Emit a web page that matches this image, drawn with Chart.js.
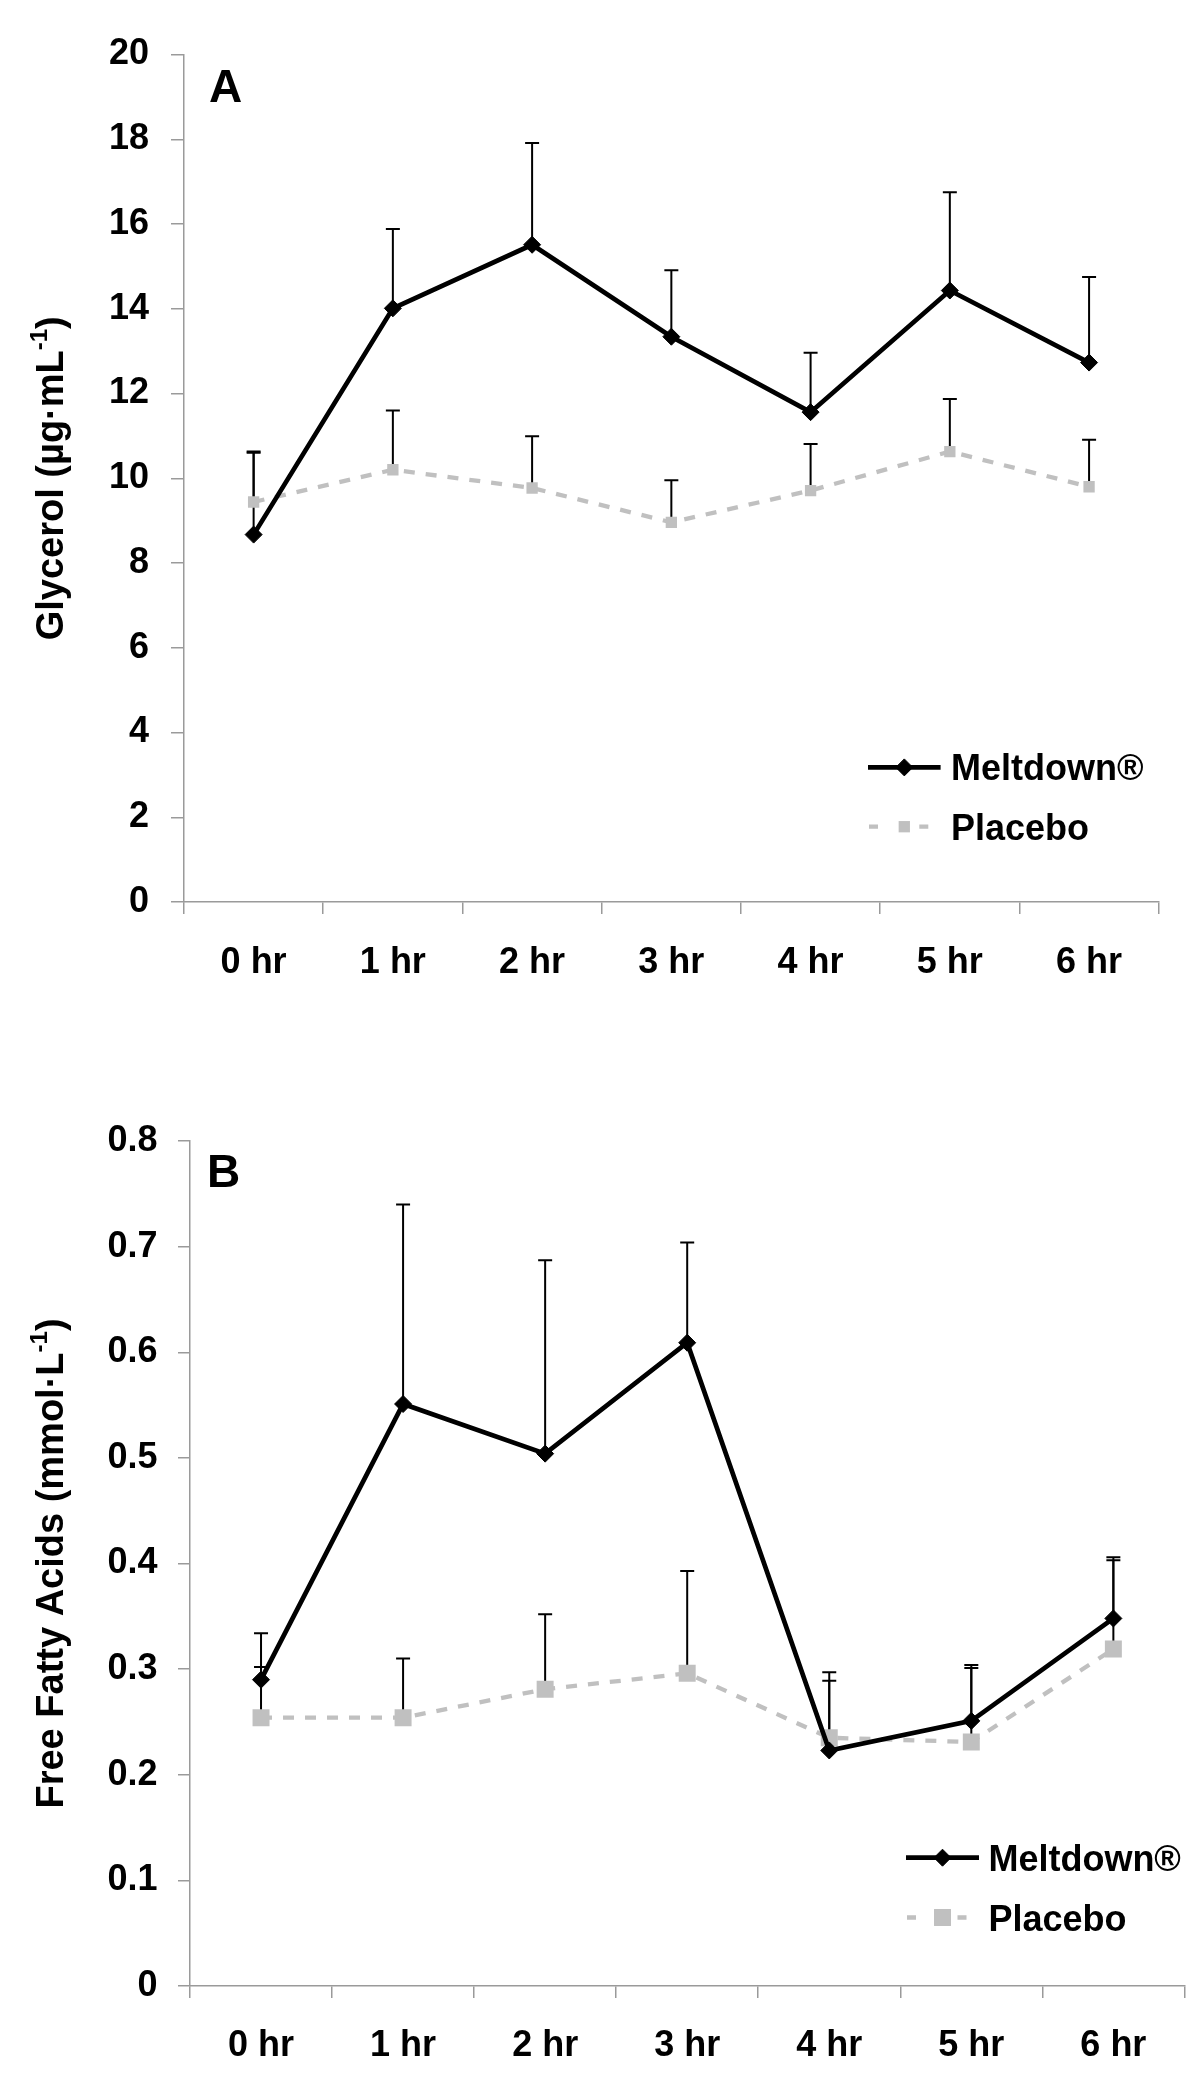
<!DOCTYPE html>
<html>
<head>
<meta charset="utf-8">
<script src="https://cdn.jsdelivr.net/npm/chart.js@4.4.1/dist/chart.umd.min.js"></script>
<style>
  html, body { margin: 0; padding: 0; background: #fff; }
  .panel { position: absolute; left: 0; width: 1200px; height: 1043px; }
  #panelA { top: 0; }
  #panelB { top: 1043px; }
</style>
</head>
<body>
<div class="panel" id="panelA"><canvas id="chartA" width="1200" height="1043"></canvas></div>
<div class="panel" id="panelB"><canvas id="chartB" width="1200" height="1043"></canvas></div>
<script>
const hours = ['0 hr', '1 hr', '2 hr', '3 hr', '4 hr', '5 hr', '6 hr'];

// A: glycerol, mean and top of the SD bar
const glyMeltdown = [8.67, 14.01, 15.51, 13.34, 11.56, 14.43, 12.73];
const glyMeltdownTop = [10.63, 15.88, 17.91, 14.91, 12.96, 16.75, 14.75];
const glyPlacebo = [9.44, 10.2, 9.77, 8.96, 9.71, 10.63, 9.8];
const glyPlaceboTop = [10.6, 11.6, 10.99, 9.95, 10.81, 11.87, 10.91];

// B: free fatty acids
const ffaMeltdown = [0.29, 0.551, 0.504, 0.609, 0.223, 0.251, 0.348];
const ffaMeltdownTop = [0.334, 0.74, 0.687, 0.704, 0.297, 0.304, 0.406];
const ffaPlacebo = [0.254, 0.254, 0.281, 0.296, 0.235, 0.231, 0.319];
const ffaPlaceboTop = [0.302, 0.31, 0.352, 0.393, 0.289, 0.301, 0.403];

const FONT = '"Liberation Sans", Arial, sans-serif';
const axisGrey = '#9a9a9a';
const placeboGrey = '#c0c0c0';

Chart.defaults.font.family = FONT;
Chart.defaults.font.weight = 'bold';

// vertical SD bars (upper side only)
const errorBars = {
  id: 'errorBars',
  beforeDatasetsDraw(chart, args, opts) {
    const { ctx } = chart;
    const xs = chart.scales.x, ys = chart.scales.y;
    ctx.save();
    ctx.strokeStyle = '#000';
    ctx.lineWidth = 2;
    chart.data.datasets.forEach(ds => {
      ds.errTop.forEach((top, i) => {
        const px = xs.getPixelForValue(i);
        const y0 = ys.getPixelForValue(ds.data[i]);
        const y1 = ys.getPixelForValue(top);
        ctx.beginPath();
        ctx.moveTo(px, y0);
        ctx.lineTo(px, y1);
        ctx.moveTo(px - opts.cap, y1);
        ctx.lineTo(px + opts.cap, y1);
        ctx.stroke();
      });
    });
    ctx.restore();
  }
};

// panel letter, y title with superscript, legend inside plot
const panelDecor = {
  id: 'panelDecor',
  afterDraw(chart, args, o) {
    const { ctx, chartArea: a } = chart;
    ctx.save();
    ctx.fillStyle = '#000';

    ctx.font = 'bold 46px ' + FONT;
    ctx.textBaseline = 'alphabetic';
    ctx.textAlign = 'left';
    ctx.fillText(o.letter, a.left + o.letterDx, a.top + o.letterDy);

    // rotated axis title
    const [t1, sup, t3] = o.title;
    const big = 'bold 38px ' + FONT, small = 'bold 24px ' + FONT;
    ctx.font = big;
    const w1 = ctx.measureText(t1).width, w3 = ctx.measureText(t3).width;
    ctx.font = small;
    const w2 = ctx.measureText(sup).width;
    const total = w1 + w2 + w3;
    ctx.translate(o.titleX, (a.top + a.bottom) / 2);
    ctx.rotate(-Math.PI / 2);
    ctx.textBaseline = 'middle';
    let x = -total / 2;
    ctx.font = big;
    ctx.fillText(t1, x, 0);
    x += w1;
    ctx.font = small;
    ctx.fillText(sup, x, -13);
    x += w2;
    ctx.font = big;
    ctx.fillText(t3, x, 0);
    ctx.setTransform(1, 0, 0, 1, 0, 0);

    // legend
    chart.data.datasets.forEach((ds, i) => {
      const yy = a.bottom - o.legendBottom + i * o.legendGap;
      const x0 = a.right - o.lineStart, x1 = a.right - o.lineEnd;
      const mid = (x0 + x1) / 2;
      ctx.strokeStyle = ds.borderColor;
      ctx.fillStyle = ds.backgroundColor;
      ctx.lineWidth = ds.borderWidth;
      ctx.beginPath();
      if (ds.borderDash) {
        ctx.moveTo(x0 + 1, yy); ctx.lineTo(x0 + 10, yy);
        ctx.moveTo(mid + 15, yy); ctx.lineTo(mid + 24, yy);
      } else {
        ctx.moveTo(x0, yy); ctx.lineTo(x1, yy);
      }
      ctx.stroke();
      ctx.lineWidth = ds.pointBorderWidth;
      Chart.helpers.drawPoint(ctx, {
        pointStyle: ds.pointStyle, radius: ds.pointRadius,
        borderWidth: ds.pointBorderWidth, rotation: 0
      }, mid, yy);
      ctx.fillStyle = '#000';
      ctx.font = 'bold 36px ' + FONT;
      ctx.textBaseline = 'alphabetic';
      ctx.fillText(ds.label, a.right - o.textStart, yy + 13);
    });
    ctx.restore();
  }
};

function makeChart(id, c) {
  return new Chart(document.getElementById(id), {
    type: 'line',
    data: {
      labels: hours,
      datasets: [
        {
          label: 'Meltdown®', data: c.melt, errTop: c.meltTop,
          borderColor: '#000', backgroundColor: '#000', borderWidth: 4.7,
          pointStyle: 'rectRot', pointRadius: c.diamond, pointBorderWidth: 1,
          pointBackgroundColor: '#000', pointBorderColor: '#000'
        },
        {
          label: 'Placebo', data: c.plac, errTop: c.placTop,
          borderColor: placeboGrey, backgroundColor: placeboGrey, borderWidth: 4.3,
          borderDash: [11, 11], pointStyle: 'rect', pointRadius: c.square,
          pointBorderWidth: 0, pointBackgroundColor: placeboGrey
        }
      ]
    },
    options: {
      responsive: false,
      animation: false,
      layout: { padding: c.padding },
      plugins: {
        legend: { display: false },
        tooltip: { enabled: false },
        errorBars: { cap: 7 },
        panelDecor: c.decor
      },
      scales: {
        x: {
          offset: true,
          grid: { offset: true, drawOnChartArea: false, drawTicks: true, tickLength: 12, color: axisGrey, lineWidth: 1.5 },
          border: { color: axisGrey, width: 1.5 },
          ticks: { color: '#000', font: { size: 36, weight: 'bold' }, padding: c.xPad, maxRotation: 0 },
          afterFit: s => { s.height = c.xHeight; }
        },
        y: {
          min: 0, max: c.max,
          grid: { drawOnChartArea: false, drawTicks: true, tickLength: c.yTick, color: axisGrey, lineWidth: 1.5 },
          border: { color: axisGrey, width: 1.5 },
          ticks: { stepSize: c.step, color: '#000', font: { size: 36, weight: 'bold' }, padding: c.yPad, callback: c.fmt },
          afterFit: s => { s.width = c.yWidth; }
        }
      }
    },
    plugins: [errorBars, panelDecor]
  });
}

makeChart('chartA', {
  melt: glyMeltdown, meltTop: glyMeltdownTop, plac: glyPlacebo, placTop: glyPlaceboTop,
  diamond: 8.5, square: 8, max: 20, step: 2,
  fmt: v => String(v),
  padding: { top: 54.5, right: 41.3, left: 0, bottom: 0 },
  xHeight: 141, xPad: 27.4, yWidth: 184, yTick: 13, yPad: 22,
  decor: {
    letter: 'A', letterDx: 25, letterDy: 47, titleX: 53,
    title: ['Glycerol (µg·mL', '-1', ')'],
    legendBottom: 134.6, legendGap: 59.3, lineStart: 290.7, lineEnd: 218.1, textStart: 207.7
  }
});

makeChart('chartB', {
  melt: ffaMeltdown, meltTop: ffaMeltdownTop, plac: ffaPlacebo, placTop: ffaPlaceboTop,
  diamond: 8.5, square: 12, max: 0.8, step: 0.1,
  fmt: v => (v === 0 ? '0' : v.toFixed(1)),
  padding: { top: 98, right: 15.6, left: 0, bottom: 0 },
  xHeight: 100, xPad: 26.4, yWidth: 190, yTick: 12, yPad: 20.5,
  decor: {
    letter: 'B', letterDx: 17, letterDy: 46, titleX: 53,
    title: ['Free Fatty Acids (mmol·L', '-1', ')'],
    legendBottom: 128.3, legendGap: 59.8, lineStart: 278.4, lineEnd: 205.4, textStart: 196
  }
});
</script>
</body>
</html>
